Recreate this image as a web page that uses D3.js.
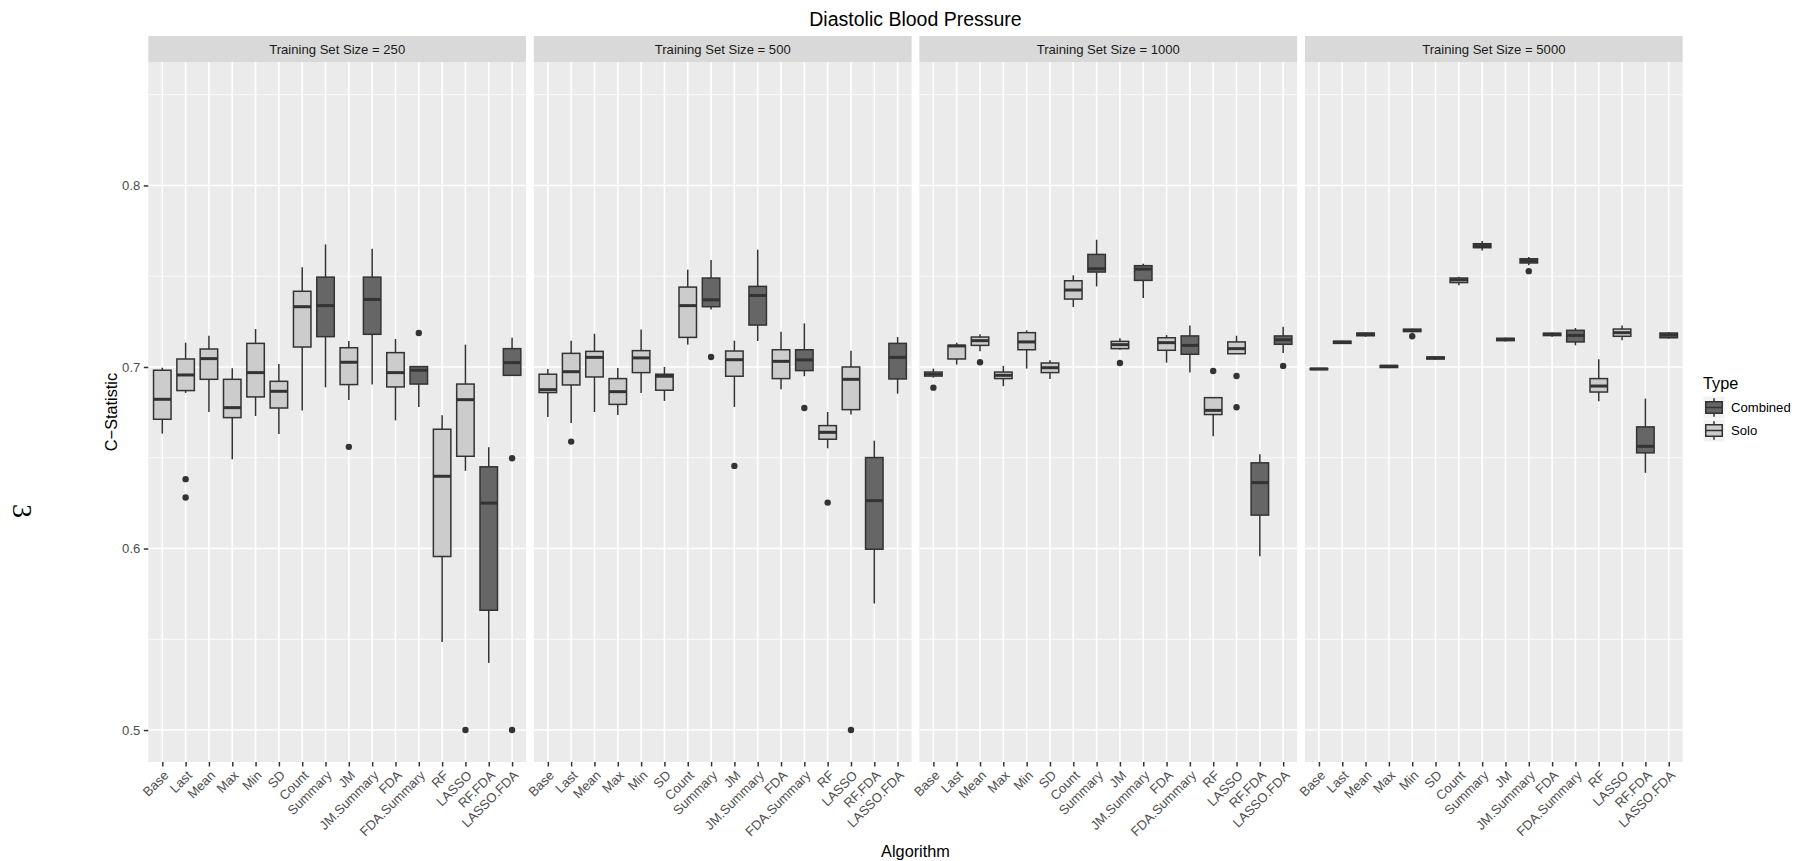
<!DOCTYPE html>
<html>
<head>
<meta charset="utf-8">
<script src="https://cdn.jsdelivr.net/npm/d3@7"></script>
<style>
    body { margin: 0; background: #fff; }
    svg { display: block; font-family: "Liberation Sans", Arial, Helvetica, sans-serif; }
</style>
</head>
<body>
<svg id="chart" width="1796" height="861"></svg>
<script>
const algorithms = ['Base', 'Last', 'Mean', 'Max', 'Min', 'SD', 'Count', 'Summary', 'JM',
    'JM.Summary', 'FDA', 'FDA.Summary', 'RF', 'LASSO', 'RF.FDA', 'LASSO.FDA'];
const algoTypes = ['Solo', 'Solo', 'Solo', 'Solo', 'Solo', 'Solo', 'Solo', 'Combined', 'Solo',
    'Combined', 'Solo', 'Combined', 'Solo', 'Solo', 'Combined', 'Combined'];
const trainingSizes = [250, 500, 1000, 5000];
const typeNames = ['Combined', 'Solo'];
const yTicks = [0.5, 0.6, 0.7, 0.8];
const yMinorTicks = [0.55, 0.65, 0.75, 0.85];

// per algorithm: [lower whisker, Q1, median, Q3, upper whisker]
const stats250 = [
    [0.6633, 0.6712, 0.6822, 0.6982, 0.6996], [0.6857, 0.6870, 0.6956, 0.7044, 0.7134],
    [0.6752, 0.6932, 0.7046, 0.7099, 0.7172], [0.6492, 0.6721, 0.6776, 0.6932, 0.6993],
    [0.6730, 0.6835, 0.6969, 0.7130, 0.7209], [0.6631, 0.6774, 0.6866, 0.6921, 0.7017],
    [0.6760, 0.7110, 0.7332, 0.7417, 0.7550], [0.6888, 0.7167, 0.7338, 0.7495, 0.7675],
    [0.6818, 0.6903, 0.7026, 0.7106, 0.7143], [0.6903, 0.7180, 0.7372, 0.7495, 0.7651],
    [0.6706, 0.6890, 0.6969, 0.7079, 0.7154], [0.6780, 0.6906, 0.6982, 0.7002, 0.7002],
    [0.5485, 0.5956, 0.6398, 0.6657, 0.6734], [0.6428, 0.6508, 0.6820, 0.6906, 0.7123],
    [0.5370, 0.5660, 0.6250, 0.6450, 0.6558], [0.6954, 0.6954, 0.7024, 0.7101, 0.7161],
];
const outliers250 = [[], [0.6382, 0.6281], [], [], [], [], [], [], [0.6560], [], [], [0.7187],
    [], [0.5000], [], [0.6497, 0.5000]];

const stats500 = [
    [0.6725, 0.6859, 0.6875, 0.6960, 0.6989], [0.6692, 0.6901, 0.6974, 0.7075, 0.7145],
    [0.6752, 0.6945, 0.7053, 0.7086, 0.7183], [0.6736, 0.6794, 0.6864, 0.6936, 0.6994],
    [0.6857, 0.6969, 0.7050, 0.7090, 0.7206], [0.6813, 0.6872, 0.6949, 0.6960, 0.7000],
    [0.7123, 0.7163, 0.7338, 0.7440, 0.7536], [0.7316, 0.7332, 0.7370, 0.7490, 0.7589],
    [0.6780, 0.6949, 0.7040, 0.7088, 0.7145], [0.7143, 0.7231, 0.7394, 0.7444, 0.7646],
    [0.6877, 0.6936, 0.7031, 0.7095, 0.7194], [0.6949, 0.6980, 0.7039, 0.7095, 0.7240],
    [0.6552, 0.6602, 0.6640, 0.6677, 0.6752], [0.6738, 0.6765, 0.6932, 0.7000, 0.7090],
    [0.5697, 0.5996, 0.6264, 0.6501, 0.6594], [0.6853, 0.6934, 0.7053, 0.7130, 0.7165],
];
const outliers500 = [[], [0.6589], [], [], [], [], [], [0.7055], [0.6455], [], [], [0.6774],
    [0.6253], [0.5000], [], []];

const stats1000 = [
    [0.6941, 0.6950, 0.6960, 0.6972, 0.6991], [0.7013, 0.7044, 0.7116, 0.7119, 0.7134],
    [0.7086, 0.7119, 0.7145, 0.7165, 0.7180], [0.6894, 0.6936, 0.6954, 0.6972, 0.7006],
    [0.6991, 0.7095, 0.7138, 0.7189, 0.7202], [0.6934, 0.6969, 0.6996, 0.7022, 0.7037],
    [0.7330, 0.7374, 0.7424, 0.7475, 0.7505], [0.7444, 0.7523, 0.7541, 0.7620, 0.7701],
    [0.7095, 0.7101, 0.7123, 0.7141, 0.7158], [0.7380, 0.7477, 0.7539, 0.7558, 0.7569],
    [0.7024, 0.7092, 0.7134, 0.7161, 0.7176], [0.6969, 0.7070, 0.7119, 0.7171, 0.7229],
    [0.6618, 0.6738, 0.6761, 0.6831, 0.6835], [0.7073, 0.7073, 0.7101, 0.7138, 0.7172],
    [0.5958, 0.6184, 0.6363, 0.6472, 0.6519], [0.7077, 0.7125, 0.7150, 0.7171, 0.7222],
];
const outliers1000 = [[0.6886], [], [0.7026], [], [], [], [], [], [0.7022], [], [], [],
    [0.6978], [0.6950, 0.6778], [], [0.7006]];

const stats5000 = [
    [0.6983, 0.6986, 0.6989, 0.6992, 0.6995], [0.7127, 0.7130, 0.7136, 0.7142, 0.7145],
    [0.7166, 0.7172, 0.7180, 0.7187, 0.7190], [0.6993, 0.6997, 0.7004, 0.7008, 0.7011],
    [0.7190, 0.7195, 0.7202, 0.7208, 0.7211], [0.7039, 0.7044, 0.7050, 0.7055, 0.7058],
    [0.7450, 0.7465, 0.7480, 0.7490, 0.7497], [0.7642, 0.7657, 0.7668, 0.7679, 0.7694],
    [0.7140, 0.7145, 0.7152, 0.7158, 0.7162], [0.7560, 0.7573, 0.7585, 0.7596, 0.7606],
    [0.7166, 0.7173, 0.7180, 0.7186, 0.7190], [0.7119, 0.7138, 0.7174, 0.7202, 0.7215],
    [0.6811, 0.6862, 0.6895, 0.6936, 0.7042], [0.7147, 0.7169, 0.7189, 0.7209, 0.7229],
    [0.6417, 0.6527, 0.6563, 0.6670, 0.6826], [0.7156, 0.7161, 0.7176, 0.7187, 0.7193],
];
const outliers5000 = [[], [], [], [], [0.7169], [], [], [], [], [0.7528], [], [], [], [], [], []];

const panelStats = [stats250, stats500, stats1000, stats5000];
const panelOutliers = [outliers250, outliers500, outliers1000, outliers5000];

const FILL = { Combined: '#666666', Solo: '#CCCCCC' };
const INK = '#333333';
const TICK_FONT = 13.1;
const TITLE_FONT = 16.3;
const margin = { top: 62, left: 148.3, right: 113.3, bottom: 99 };
const W = 1796, H = 861;
const panelTop = margin.top, panelBottom = H - margin.bottom;

const svg = d3.select('#chart');

const facetX = d3.scaleBand()
    .domain(trainingSizes)
    .range([margin.left, W - margin.right])
    .paddingInner(0.0202)
    .paddingOuter(0);

const y = d3.scaleLinear()
    .domain([0.4824, 0.868])
    .range([panelBottom, panelTop]);

const x = d3.scalePoint()
    .domain(algorithms)
    .range([0, facetX.bandwidth()])
    .padding(0.6);
const boxW = x.step() * 0.75;

trainingSizes.forEach((size, p) => {
    const g = svg.append('g')
        .attr('transform', `translate(${facetX(size)},0)`);

    g.append('rect')
        .attr('x', 0).attr('y', panelTop)
        .attr('width', facetX.bandwidth()).attr('height', panelBottom - panelTop)
        .attr('fill', '#EBEBEB');

    g.selectAll('.minor')
        .data(yMinorTicks)
        .enter().append('line')
        .attr('x1', 0).attr('x2', facetX.bandwidth())
        .attr('y1', d => y(d)).attr('y2', d => y(d))
        .attr('stroke', '#fff').attr('stroke-width', 0.8);

    g.selectAll('.hmajor')
        .data(yTicks)
        .enter().append('line')
        .attr('x1', 0).attr('x2', facetX.bandwidth())
        .attr('y1', d => y(d)).attr('y2', d => y(d))
        .attr('stroke', '#fff').attr('stroke-width', 1.6);

    g.selectAll('.vmajor')
        .data(algorithms)
        .enter().append('line')
        .attr('x1', d => x(d)).attr('x2', d => x(d))
        .attr('y1', panelTop).attr('y2', panelBottom)
        .attr('stroke', '#fff').attr('stroke-width', 1.6);

    const stats = panelStats[p];
    const boxes = g.selectAll('.box')
        .data(algorithms.map((a, i) => ({ algo: a, type: algoTypes[i], s: stats[i], out: panelOutliers[p][i] })))
        .enter().append('g');

    boxes.append('line')
        .attr('x1', d => x(d.algo)).attr('x2', d => x(d.algo))
        .attr('y1', d => y(d.s[4])).attr('y2', d => y(d.s[3]))
        .attr('stroke', INK).attr('stroke-width', 1.5);

    boxes.append('line')
        .attr('x1', d => x(d.algo)).attr('x2', d => x(d.algo))
        .attr('y1', d => y(d.s[1])).attr('y2', d => y(d.s[0]))
        .attr('stroke', INK).attr('stroke-width', 1.5);

    boxes.append('rect')
        .attr('x', d => x(d.algo) - boxW / 2)
        .attr('y', d => y(d.s[3]))
        .attr('width', boxW)
        .attr('height', d => Math.max(y(d.s[1]) - y(d.s[3]), 0.5))
        .attr('fill', d => FILL[d.type])
        .attr('stroke', INK).attr('stroke-width', 1.5);

    boxes.append('line')
        .attr('x1', d => x(d.algo) - boxW / 2).attr('x2', d => x(d.algo) + boxW / 2)
        .attr('y1', d => y(d.s[2])).attr('y2', d => y(d.s[2]))
        .attr('stroke', INK).attr('stroke-width', 3);

    boxes.selectAll('circle')
        .data(d => d.out.map(v => ({ algo: d.algo, v })))
        .enter().append('circle')
        .attr('cx', d => x(d.algo)).attr('cy', d => y(d.v))
        .attr('r', 3.2).attr('fill', INK);

    // strip
    g.append('rect')
        .attr('x', 0).attr('y', 36)
        .attr('width', facetX.bandwidth()).attr('height', panelTop - 36)
        .attr('fill', '#D9D9D9');
    g.append('text')
        .attr('x', facetX.bandwidth() / 2).attr('y', 53.7)
        .attr('text-anchor', 'middle')
        .attr('font-size', TICK_FONT).attr('fill', '#1A1A1A')
        .text(`Training Set Size = ${size}`);

    // x axis
    const ax = g.append('g')
        .attr('transform', `translate(0,${panelBottom})`)
        .call(d3.axisBottom(x).tickSize(4.5).tickPadding(3));
    ax.select('.domain').remove();
    ax.selectAll('.tick line').attr('stroke', INK).attr('stroke-width', 1.5);
    ax.selectAll('.tick text')
        .attr('font-size', TICK_FONT)
        .attr('font-family', null)
        .attr('fill', '#4D4D4D')
        .attr('text-anchor', 'end')
        .attr('y', 0).attr('dy', '0.72em')
        .attr('transform', 'translate(0,7.5) rotate(-45)');
});

// y axis
const ay = svg.append('g')
    .attr('transform', `translate(${margin.left},0)`)
    .call(d3.axisLeft(y).tickValues(yTicks).tickFormat(d3.format('.1f')).tickSize(4.5).tickPadding(3.5));
ay.select('.domain').remove();
ay.selectAll('.tick line').attr('stroke', INK).attr('stroke-width', 1.5);
ay.selectAll('.tick text')
    .attr('font-size', TICK_FONT)
    .attr('font-family', null)
    .attr('fill', '#4D4D4D');

// titles
const panelsCenter = (margin.left + W - margin.right) / 2;
svg.append('text')
    .attr('x', panelsCenter).attr('y', 26)
    .attr('text-anchor', 'middle')
    .attr('font-size', 19.5).attr('fill', '#000')
    .text('Diastolic Blood Pressure');

svg.append('text')
    .attr('x', panelsCenter).attr('y', 857)
    .attr('text-anchor', 'middle')
    .attr('font-size', TITLE_FONT).attr('fill', '#000')
    .text('Algorithm');

svg.append('text')
    .attr('transform', `translate(117,${(panelTop + panelBottom) / 2}) rotate(-90)`)
    .attr('text-anchor', 'middle')
    .attr('font-size', TITLE_FONT).attr('fill', '#000')
    .text('C\u2212Statistic');

// page number
svg.append('text')
    .attr('transform', 'translate(13,511) rotate(90)')
    .attr('text-anchor', 'middle')
    .attr('font-family', '"Liberation Serif", "DejaVu Serif", serif')
    .attr('font-size', 28).attr('fill', '#000')
    .text('3');

// legend
const lg = svg.append('g').attr('transform', 'translate(1703,0)');
lg.append('text')
    .attr('x', 0).attr('y', 389)
    .attr('font-size', TITLE_FONT).attr('fill', '#000')
    .text('Type');

const keyH = 23, keyW = 22;
const key = lg.selectAll('.key')
    .data(typeNames)
    .enter().append('g')
    .attr('transform', (d, i) => `translate(0,${396 + i * keyH})`);

key.append('rect')
    .attr('width', keyW).attr('height', keyH)
    .attr('fill', '#F2F2F2').attr('stroke', '#fff').attr('stroke-width', 1);
key.append('line')
    .attr('x1', keyW / 2).attr('x2', keyW / 2)
    .attr('y1', keyH * 0.1).attr('y2', keyH * 0.9)
    .attr('stroke', INK).attr('stroke-width', 1.5);
key.append('rect')
    .attr('x', keyW * 0.125).attr('y', keyH * 0.25)
    .attr('width', keyW * 0.75).attr('height', keyH * 0.5)
    .attr('fill', d => FILL[d])
    .attr('stroke', INK).attr('stroke-width', 1.5);
key.append('line')
    .attr('x1', keyW * 0.125).attr('x2', keyW * 0.875)
    .attr('y1', keyH / 2).attr('y2', keyH / 2)
    .attr('stroke', INK).attr('stroke-width', 1.5);
key.append('text')
    .attr('x', keyW + 6).attr('y', keyH / 2)
    .attr('dy', '0.35em')
    .attr('font-size', TICK_FONT).attr('fill', '#000')
    .text(d => d);
</script>
</body>
</html>
